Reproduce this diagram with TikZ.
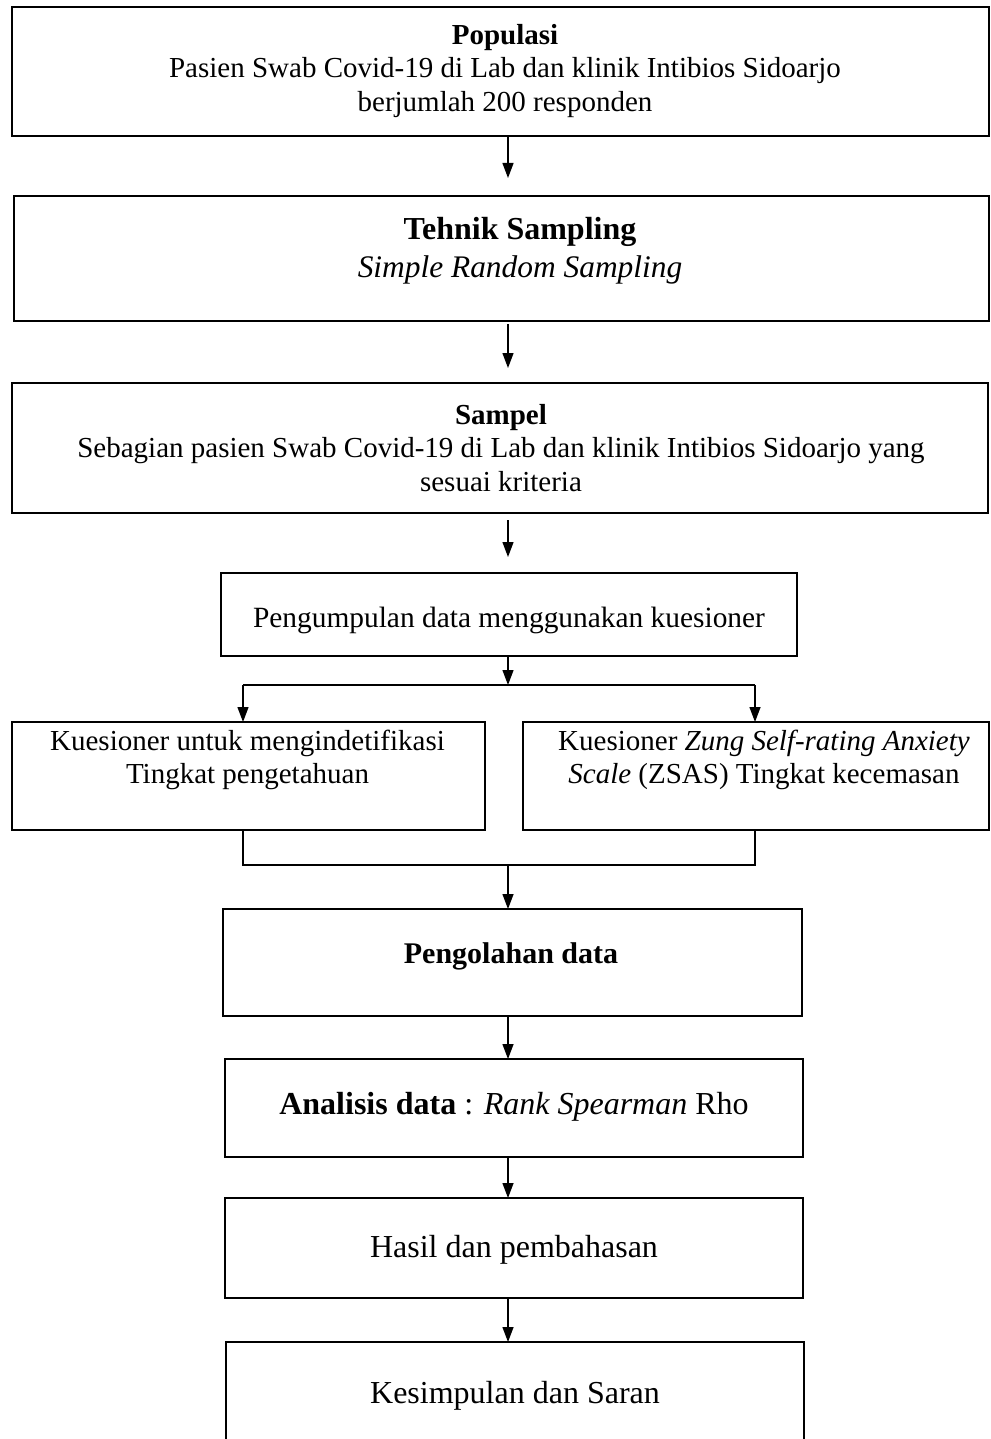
\documentclass[tikz,border=0pt]{standalone}
\usepackage{fontspec}
\setmainfont{Liberation Serif}
\usetikzlibrary{arrows.meta}
\begin{document}
\begin{tikzpicture}[x=0.5pt,y=-0.5pt,
  box/.style={draw=black, line width=0.65pt, inner sep=0pt, outer sep=0pt, anchor=center},
  txt/.style={inner sep=0pt, align=center, font=\fontsize{14.5pt}{16.8pt}\selectfont},
  bigtxt/.style={inner sep=0pt, align=center, font=\fontsize{16pt}{18pt}\selectfont},
  arr/.style={line width=0.65pt, -{Triangle[length=7.5pt,width=5.5pt]}},
  ln/.style={line width=0.65pt}]
\useasboundingbox (0,0) rectangle (990,1439);
\clip (0,0) rectangle (990,1439);
% boxes
\node[box, minimum width=488.5pt, minimum height=64.5pt] (b1) at (500.5,71.5) {};
\node[box, minimum width=487.5pt, minimum height=62.5pt] (b2) at (501.5,258.5) {};
\node[box, minimum width=488pt, minimum height=65pt] (b3) at (500,448) {};
\node[box, minimum width=288pt, minimum height=41.5pt] (b4) at (509,614.5) {};
\node[box, minimum width=236.5pt, minimum height=54pt] (b5) at (248.5,776) {};
\node[box, minimum width=233pt, minimum height=54pt] (b6) at (756,776) {};
\node[box, minimum width=289.5pt, minimum height=53.5pt] (b7) at (512.5,962.5) {};
\node[box, minimum width=289pt, minimum height=49pt] (b8) at (514,1108) {};
\node[box, minimum width=289pt, minimum height=50pt] (b9) at (514,1248) {};
\node[box, minimum width=289pt, minimum height=54pt] (b10) at (515,1396) {};
% texts
\node[txt] (t1) at (505,71) {\textbf{Populasi}\\Pasien Swab Covid-19 di Lab dan klinik Intibios Sidoarjo\\berjumlah 200 responden};
\node[bigtxt, font=\fontsize{16pt}{18pt}\selectfont\bfseries] (t2a) at (520,232) {Tehnik Sampling};
\node[txt, font=\fontsize{15.7pt}{18pt}\selectfont\itshape] (t2b) at (520,270) {Simple Random Sampling};
\node[txt] (t3) at (501,448) {\textbf{Sampel}\\Sebagian pasien Swab Covid-19 di Lab dan klinik Intibios Sidoarjo yang\\sesuai kriteria};
\node[txt, font=\fontsize{14.7pt}{16.8pt}\selectfont] (t4) at (509,620) {Pengumpulan data menggunakan kuesioner};
\node[txt] (t5) at (247.5,760) {Kuesioner untuk mengindetifikasi\\Tingkat pengetahuan};
\node[txt] (t6) at (764,760) {Kuesioner \textit{Zung Self-rating Anxiety}\\\textit{Scale} (ZSAS) Tingkat kecemasan};
\node[txt, font=\fontsize{15pt}{16.8pt}\selectfont] (t7) at (511,956) {\textbf{Pengolahan data}};
\node[bigtxt] (t8) at (514,1107) {\textbf{Analisis data} : \textit{Rank Spearman} Rho};
\node[bigtxt] (t9) at (514,1250) {Hasil dan pembahasan};
\node[bigtxt] (t10) at (515,1396) {Kesimpulan dan Saran};
% connectors
\coordinate (ax) at (508,0);
\coordinate (split) at (508,685);
\coordinate (sl) at (243,685);
\coordinate (sr) at (755,685);
\coordinate (jl) at (243,865);
\coordinate (jr) at (755,865);
\coordinate (jm) at (508,865);
\draw[arr, shorten >=9pt] (b1.south -| ax) -- (b2.north -| ax);
\draw[arr, shorten <=1.5pt, shorten >=7.5pt] (b2.south -| ax) -- (b3.north -| ax);
\draw[arr, shorten <=3.5pt, shorten >=8pt] (b3.south -| ax) -- (b4.north -| ax);
\draw[arr] (b4.south -| ax) -- (split);
\draw[ln] (sl) -- (sr);
\draw[arr] (sl) -- (b5.north -| sl);
\draw[arr] (sr) -- (b6.north -| sr);
\draw[ln] (b5.south -| jl) -- (jl) -- (jr) -- (b6.south -| jr);
\draw[arr] (jm) -- (b7.north -| jm);
\draw[arr] (b7.south -| ax) -- (b8.north -| ax);
\draw[arr] (b8.south -| ax) -- (b9.north -| ax);
\draw[arr] (b9.south -| ax) -- (b10.north -| ax);
\end{tikzpicture}
\end{document}
